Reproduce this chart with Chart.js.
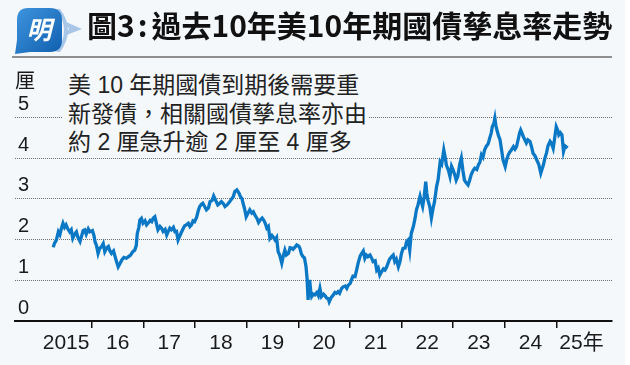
<!DOCTYPE html>
<html>
<head>
<meta charset="utf-8">
<script src="https://cdn.jsdelivr.net/npm/chart.js@4.4.1/dist/chart.umd.min.js"></script>
<style>
  html, body { margin: 0; padding: 0; background: #fff; }
  #wrap { position: relative; width: 625px; height: 365px; background: #f5f8fb; overflow: hidden; }
  #chart { position: absolute; left: 0; top: 0; }
  #logo { position: absolute; left: 0; top: 0; }
  #title { position: absolute; left: 87px; top: 4px; font: 700 30px "Noto Sans CJK TC"; color: #111; white-space: nowrap; line-height: 40px; }
  #title .colon { margin: 0 4px 0 3px; }
  #rule { position: absolute; left: 12px; top: 56px; width: 600px; border-top: 2px solid #8f8f8f; }
  #note { position: absolute; left: 62px; top: 71px; width: 306px; padding-left: 6px; box-sizing: border-box;
          background: #f5f8fb; font: 23px "Liberation Sans", "Noto Sans CJK TC"; line-height: 28.5px; color: #222; white-space: nowrap; }
</style>
</head>
<body>
<div id="wrap">
  <canvas id="chart" width="630" height="365"></canvas>
  <svg id="logo" width="86" height="58" viewBox="0 0 86 58">
    <defs>
      <linearGradient id="bub" x1="0" y1="0" x2="1" y2="1">
        <stop offset="0" stop-color="#3f95de"/>
        <stop offset="1" stop-color="#105fae"/>
      </linearGradient>
    </defs>
    <path d="M56 9 Q72 30 56 52 L60 52 Q76 30 60 9 Z" fill="#a7c6e8"/>
    <path d="M64 21 L82 29 L64 36 L69 29 Z" fill="#a7c6e8"/>
    <path d="M28 8 L50 8 Q62 8 62 20 L62 40 Q62 52 50 52 L30 52 L15 54 L17 40 L17 20 Q17 8 28 8 Z" fill="url(#bub)"/>
    <text x="39" y="39" text-anchor="middle" font-family="Noto Sans CJK TC" font-weight="700" font-size="25" fill="#fff" font-style="italic">明</text>
  </svg>
  <div id="title">圖3<span class="colon">:</span>過去10年美10年期國債孳息率走勢</div>
  <div id="rule"></div>
  <div id="note">美 10 年期國債到期後需要重<br>新發債，相關國債孳息率亦由<br>約 2 厘急升逾 2 厘至 4 厘多</div>
</div>
<script>
// dates as decimal years, yields in %
const dates = [
  2015.25,2015.28,2015.31,2015.35,2015.38,2015.41,2015.44,2015.47,2015.50,2015.53,2015.57,2015.60,2015.63,2015.67,2015.70,2015.73,2015.77,2015.80,2015.83,2015.86,2015.89,2015.93,2015.96,
  2016.01,2016.04,2016.06,2016.09,2016.12,2016.15,2016.19,2016.22,2016.25,2016.29,2016.32,2016.35,2016.38,2016.42,2016.45,2016.48,2016.51,2016.54,2016.58,2016.62,2016.67,2016.71,2016.75,2016.79,2016.83,2016.86,2016.88,2016.91,2016.93,2016.96,2016.99,
  2017.03,2017.06,2017.10,2017.13,2017.16,2017.19,2017.22,2017.25,2017.28,2017.32,2017.35,2017.38,2017.42,2017.45,2017.48,2017.51,2017.54,2017.58,2017.61,2017.64,2017.67,2017.70,2017.74,2017.77,2017.80,2017.83,2017.87,2017.90,2017.93,2017.96,2017.99,
  2018.03,2018.06,2018.09,2018.12,2018.15,2018.19,2018.22,2018.26,2018.29,2018.33,2018.36,2018.40,2018.44,2018.47,2018.51,2018.55,2018.58,2018.62,2018.67,2018.70,2018.74,2018.77,2018.81,2018.85,2018.88,2018.91,2018.93,2018.96,2018.99,
  2019.03,2019.06,2019.10,2019.13,2019.16,2019.20,2019.23,2019.26,2019.30,2019.33,2019.36,2019.39,2019.42,2019.45,2019.49,2019.52,2019.55,2019.58,2019.61,2019.64,2019.68,2019.71,2019.74,2019.77,2019.81,2019.84,2019.87,2019.90,2019.94,2019.97,
  2020.01,2020.03,2020.06,2020.09,2020.12,2020.15,2020.17,2020.19,2020.21,2020.22,2020.24,2020.26,2020.29,2020.32,2020.36,2020.39,2020.42,2020.45,2020.49,2020.52,2020.55,2020.58,2020.60,2020.64,2020.68,2020.71,2020.74,2020.77,2020.80,2020.84,2020.87,2020.91,2020.94,2020.97,
  2021.01,2021.03,2021.06,2021.10,2021.13,2021.16,2021.20,2021.23,2021.26,2021.29,2021.32,2021.35,2021.39,2021.42,2021.45,2021.49,2021.52,2021.55,2021.58,2021.61,2021.65,2021.68,2021.71,2021.74,2021.77,2021.81,2021.84,2021.87,2021.90,2021.94,2021.97,
  2022.00,2022.03,2022.07,2022.10,2022.13,2022.16,2022.19,2022.23,2022.26,2022.29,2022.32,2022.36,2022.39,2022.41,2022.44,2022.47,2022.49,2022.51,2022.55,2022.58,2022.61,2022.64,2022.68,2022.71,2022.75,2022.78,2022.82,2022.85,2022.87,2022.91,2022.94,2022.97,
  2023.00,2023.03,2023.06,2023.09,2023.13,2023.16,2023.19,2023.22,2023.25,2023.29,2023.32,2023.35,2023.39,2023.42,2023.46,2023.49,2023.52,2023.55,2023.58,2023.61,2023.64,2023.68,2023.71,2023.74,2023.76,2023.79,2023.81,2023.83,2023.85,2023.88,2023.91,2023.94,2023.97,
  2024.01,2024.04,2024.07,2024.10,2024.13,2024.17,2024.20,2024.23,2024.26,2024.29,2024.31,2024.34,2024.36,2024.39,2024.42,2024.45,2024.49,2024.52,2024.55,2024.59,2024.62,2024.66,2024.70,2024.73,2024.75,2024.78,2024.81,2024.84,2024.88,2024.91,2024.94,2024.97,
  2025.00,2025.03,2025.05,2025.08,2025.11,2025.14,2025.17,2025.19,2025.22
];
const yields = [
  1.81,1.92,1.98,2.19,2.12,2.28,2.40,2.30,2.36,2.27,2.19,2.24,2.03,2.14,2.19,2.05,1.95,2.08,2.22,2.24,2.13,2.26,2.19,
  2.22,2.10,1.95,1.85,1.66,1.78,1.83,1.90,1.70,1.80,1.83,1.72,1.66,1.72,1.58,1.45,1.33,1.40,1.50,1.56,1.54,1.58,1.62,1.70,1.74,1.85,2.15,2.30,2.48,2.52,2.40,
  2.46,2.36,2.42,2.47,2.44,2.53,2.56,2.40,2.24,2.32,2.28,2.20,2.25,2.11,2.20,2.28,2.24,2.30,2.19,2.20,1.99,2.08,2.19,2.27,2.34,2.36,2.40,2.32,2.36,2.46,2.44,
  2.55,2.70,2.81,2.86,2.89,2.80,2.73,2.78,2.93,2.96,3.07,2.96,2.85,2.88,2.93,2.88,2.81,2.85,2.93,2.98,3.05,3.18,3.22,3.14,3.05,3.00,2.89,2.75,2.56,
  2.66,2.73,2.65,2.68,2.60,2.52,2.42,2.48,2.53,2.48,2.40,2.28,2.32,2.03,2.10,2.05,1.99,2.05,1.70,1.62,1.42,1.60,1.74,1.62,1.66,1.80,1.79,1.76,1.82,1.87,
  1.84,1.79,1.65,1.58,1.55,1.33,1.05,0.52,0.90,1.01,0.75,0.60,0.66,0.64,0.70,0.62,0.80,0.60,0.66,0.62,0.56,0.55,0.47,0.58,0.64,0.70,0.68,0.72,0.68,0.80,0.84,0.86,0.80,0.88,
  0.93,1.01,1.10,1.09,1.25,1.42,1.60,1.66,1.72,1.54,1.62,1.58,1.62,1.55,1.46,1.48,1.25,1.30,1.13,1.20,1.28,1.25,1.32,1.42,1.52,1.58,1.62,1.46,1.52,1.33,1.45,
  1.66,1.78,1.79,1.95,1.99,1.74,2.15,2.32,2.50,2.73,2.85,3.06,2.90,2.81,3.05,3.42,3.15,2.98,2.80,2.53,2.75,2.93,3.30,3.47,3.91,3.85,4.20,4.00,3.83,3.70,3.55,3.80,
  3.71,3.60,3.46,3.55,3.85,4.00,3.70,3.46,3.40,3.34,3.45,3.59,3.70,3.75,3.72,3.83,3.90,4.08,4.02,4.20,4.28,4.35,4.49,4.62,4.77,4.85,4.98,4.80,4.69,4.55,4.45,4.20,3.95,
  3.79,3.96,4.08,4.15,4.20,4.28,4.22,4.28,4.45,4.62,4.69,4.60,4.53,4.45,4.37,4.45,4.41,4.28,4.12,4.05,3.96,3.85,3.63,3.75,3.83,4.00,4.12,4.30,4.41,4.35,4.24,4.50,
  4.77,4.68,4.57,4.62,4.57,4.16,4.30,4.28,4.25
];
const yearTicks = [2016, 2017, 2018, 2019, 2020, 2021, 2022, 2023, 2024, 2025];
const yearLabels = ['2015', '16', '17', '18', '19', '20', '21', '22', '23', '24', '25年'];
const yTicks = [0, 1, 2, 3, 4, 5];

// labels: years sit between the tick marks, y values above the gridlines
const axisLabels = {
  id: 'axisLabels',
  afterDraw(chart) {
    const { ctx, scales: { x, y } } = chart;
    ctx.save();
    ctx.fillStyle = '#1a1a1a';
    ctx.textBaseline = 'middle';
    ctx.font = '21px "Liberation Sans", "Noto Sans CJK TC"';
    yearLabels.forEach((label, i) => {
      const year = 2015 + i;
      if (i === yearLabels.length - 1) {
        ctx.textAlign = 'left';
        ctx.fillText(label, x.getPixelForValue(year) + 3, 343);
      } else {
        ctx.textAlign = 'center';
        ctx.fillText(label, x.getPixelForValue(year + 0.5), 343);
      }
    });
    ctx.textAlign = 'left';
    ctx.font = '20px "Liberation Sans", "Noto Sans CJK TC"';
    yTicks.forEach(v => ctx.fillText(String(v), 18, y.getPixelForValue(v) - 13));
    ctx.font = '20px "Noto Sans CJK TC"';
    ctx.fillText('厘', 15, 80);
    ctx.restore();
  }
};

new Chart(document.getElementById('chart'), {
  type: 'line',
  data: {
    datasets: [{
      data: dates.map((d, i) => ({ x: d, y: yields[i] })),
      borderColor: '#0b78c6',
      borderWidth: 3.3,
      pointRadius: 0,
      tension: 0
    }]
  },
  options: {
    responsive: false,
    animation: false,
    devicePixelRatio: 1,
    layout: { padding: { left: 15, right: 18, top: 97, bottom: 44 } },
    plugins: { legend: { display: false }, tooltip: { enabled: false } },
    scales: {
      x: {
        type: 'linear',
        min: 2014.51,
        max: 2026.08,
        afterBuildTicks: s => { s.ticks = yearTicks.map(v => ({ value: v })); },
        afterFit: s => { s.height = 0; },
        ticks: { display: false },
        grid: { drawOnChartArea: false, drawTicks: true, tickLength: 7, color: '#111', lineWidth: 1.5 },
        border: { display: true, color: '#111', width: 2 }
      },
      y: {
        min: 0,
        max: 5.5,
        afterBuildTicks: s => { s.ticks = yTicks.map(v => ({ value: v })); },
        afterFit: s => { s.width = 0; },
        ticks: { display: false },
        grid: { color: c => c.tick && c.tick.value === 0 ? 'rgba(0,0,0,0)' : '#6e6e6e', lineWidth: 1, drawTicks: false },
        border: { display: false, dash: [1, 1] }
      }
    }
  },
  plugins: [axisLabels]
});
</script>
</body>
</html>
